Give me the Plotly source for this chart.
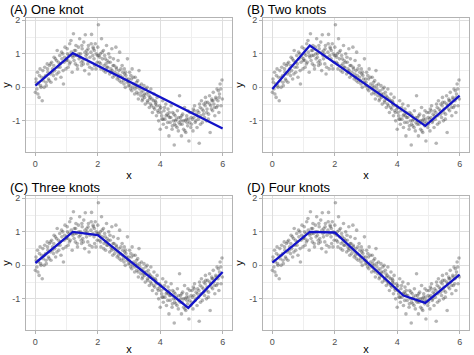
import plotly.graph_objects as go
from plotly.subplots import make_subplots

# ---------------- data ----------------
x_pts = [
    0.00,0.02,0.05,0.07,0.10,0.12,0.15,0.17,0.20,0.22,0.25,0.28,0.30,0.33,0.35,0.38,0.40,0.42,0.45,0.48,
    0.50,0.52,0.55,0.58,0.60,0.62,0.65,0.68,0.70,0.72,0.75,0.78,0.80,0.82,0.85,0.88,0.90,0.92,0.95,0.98,
    1.00,1.02,1.05,1.08,1.10,1.12,1.15,1.18,1.20,1.22,1.25,1.28,1.30,1.32,1.35,1.38,1.40,1.42,1.45,1.48,
    1.50,1.52,1.55,1.58,1.60,1.62,1.65,1.68,1.70,1.72,1.75,1.78,1.80,1.82,1.85,1.88,1.90,1.92,1.95,1.98,
    1.04,1.27,1.47,1.66,1.86,
    2.00,2.02,2.05,2.08,2.10,2.12,2.15,2.18,2.20,2.22,2.25,2.28,2.30,2.32,2.35,2.38,2.40,2.42,2.45,2.48,
    2.50,2.52,2.55,2.58,2.60,2.62,2.65,2.68,2.70,2.72,2.75,2.78,2.80,2.82,2.85,2.88,2.90,2.92,2.95,2.98,
    2.06,2.26,2.46,2.66,2.86,
    3.00,3.02,3.05,3.08,3.10,3.12,3.15,3.18,3.20,3.22,3.25,3.28,3.30,3.32,3.35,3.38,3.40,3.42,3.45,3.48,
    3.50,3.52,3.55,3.58,3.60,3.62,3.65,3.68,3.70,3.72,3.75,3.78,3.80,3.82,3.85,3.88,3.90,3.92,3.95,3.98,
    3.06,3.26,3.46,3.66,3.86,
    4.00,4.02,4.05,4.08,4.10,4.12,4.15,4.18,4.20,4.22,4.25,4.28,4.30,4.32,4.35,4.38,4.40,4.42,4.45,4.48,
    4.50,4.52,4.55,4.58,4.60,4.62,4.65,4.68,4.70,4.72,4.75,4.78,4.80,4.82,4.85,4.88,4.90,4.92,4.95,4.98,
    4.06,4.26,4.46,4.66,4.86,
    5.00,5.02,5.05,5.08,5.10,5.12,5.15,5.18,5.20,5.22,5.25,5.28,5.30,5.32,5.35,5.38,5.40,5.42,5.45,5.48,
    5.50,5.52,5.55,5.58,5.60,5.62,5.65,5.68,5.70,5.72,5.75,5.78,5.80,5.82,5.85,5.88,5.90,5.92,5.95,5.98,
    5.06,5.26,5.46,5.66,5.86,
    0.03,0.08,0.13,0.18,0.24,0.29,0.34,0.39,0.44,0.49,0.54,0.59,0.64,0.69,0.74,0.79,0.84,0.89,0.94,0.99,
    1.03,1.09,1.14,1.19,1.24,1.29,1.34,1.39,1.44,1.49,1.54,1.59,1.64,1.69,1.74,1.79,1.84,1.89,1.94,1.99,
    2.03,2.09,2.14,2.19,2.24,2.29,2.34,2.39,2.44,2.49,2.54,2.59,2.64,2.69,2.74,2.79,2.84,2.89,2.94,2.99,
    3.03,3.09,3.14,3.19,3.24,3.29,3.34,3.39,3.44,3.49,3.54,3.59,3.64,3.69,3.74,3.79,3.84,3.89,3.94,3.99,
    4.03,4.09,4.14,4.19,4.24,4.29,4.34,4.39,4.44,4.49,4.54,4.59,4.64,4.69,4.74,4.79,4.84,4.89,4.94,4.99,
    5.03,5.09,5.14,5.19,5.24,5.29,5.34,5.39,5.44,5.49,5.54,5.59,5.64,5.69,5.74,5.79,5.84,5.89,5.94,5.99,
]
y_pts = [
    -0.15,0.25,-0.05,0.45,0.10,-0.30,0.55,0.05,0.30,-0.40,0.20,0.00,0.60,0.35,0.05,0.70,0.45,0.25,0.65,0.40,
    0.15,0.75,0.55,0.35,0.90,0.50,0.25,0.80,1.10,0.60,0.45,0.95,0.70,0.30,0.85,1.00,0.10,0.75,1.20,0.55,
    0.85,1.15,0.60,0.95,1.30,0.75,1.05,0.45,0.90,1.60,1.10,0.70,1.25,0.95,0.55,1.20,0.85,1.45,1.00,0.65,
    1.15,0.80,1.35,0.50,1.57,0.95,1.10,0.70,1.25,0.40,0.90,1.05,1.58,0.55,1.20,0.85,0.65,1.30,1.00,0.75,
    0.80,0.95,0.75,1.00,1.15,
    1.20,1.87,0.75,1.00,0.55,1.45,0.85,1.10,0.65,0.95,0.45,1.25,0.80,0.60,1.00,0.40,0.75,0.55,1.15,0.30,
    0.85,0.65,0.45,1.20,0.55,0.25,0.80,0.50,1.05,0.35,0.15,0.65,0.45,0.20,0.55,0.00,0.35,0.25,0.85,0.05,
    0.90,0.70,0.50,0.30,0.40,
    0.15,0.45,-0.05,0.25,0.55,0.00,0.10,-0.20,0.30,0.05,-0.15,0.20,-0.35,0.50,-0.05,-0.25,0.10,-0.40,-0.10,0.05,
    -0.30,-0.50,-0.20,0.00,-0.45,-0.15,-0.60,-0.30,-0.05,-0.55,-0.75,-0.40,-0.20,-0.65,-0.50,-0.85,-0.30,-0.70,-1.00,-0.55,
    0.35,0.00,-0.25,-0.35,-0.45,
    -1.25,-0.60,-0.85,-0.40,-1.10,-0.70,-0.95,-0.50,-1.20,-0.80,-0.65,-1.45,-0.90,-1.05,-0.55,-1.25,-0.75,-1.00,-1.72,-0.85,
    -1.15,-0.95,-0.70,-1.30,-1.05,-0.25,-0.90,-1.45,-1.10,-0.80,-1.25,-0.60,-1.00,-1.35,-0.85,-1.15,-0.95,-1.60,-0.75,-1.20,
    -0.95,-0.85,-1.10,-1.00,-1.05,
    -1.10,-0.75,-1.30,-0.90,-0.55,-1.05,-0.80,-1.20,-0.70,-0.95,-1.67,-0.60,-0.85,-0.40,-1.05,-0.70,-0.50,-0.90,-0.30,-1.00,
    -0.65,-0.45,-0.80,-0.25,-1.35,-0.55,-0.35,-0.70,-0.15,-0.50,-0.85,-0.30,-0.60,-0.05,-0.40,-0.75,-0.20,0.10,-0.55,0.22,
    -0.65,-0.50,-0.45,-0.40,-0.10,
    0.15,-0.20,0.35,0.00,0.50,0.30,0.15,0.55,0.20,0.70,0.45,0.65,0.85,0.40,0.75,0.60,1.05,0.50,0.90,0.80,
    1.00,0.70,1.40,0.95,0.80,1.10,0.65,1.00,0.90,1.25,0.70,1.05,0.85,1.15,0.60,1.30,0.95,1.10,0.55,0.95,
    0.95,0.70,1.05,0.50,0.85,0.60,0.75,0.90,0.45,0.65,0.35,0.60,0.40,0.20,0.55,0.30,0.10,0.45,0.15,0.25,
    0.05,-0.10,0.30,-0.05,0.15,-0.20,0.05,-0.15,-0.35,-0.20,-0.05,-0.40,-0.25,-0.50,-0.35,-0.60,-0.40,-0.55,-0.75,-0.65,
    -0.75,-0.95,-0.60,-0.85,-1.05,-0.75,-0.90,-1.15,-0.80,-1.00,-1.20,-0.90,-1.10,-0.85,-1.00,-1.30,-0.95,-0.70,-1.05,-0.90,
    -0.95,-0.70,-1.00,-0.85,-0.75,-1.10,-0.65,-0.80,-0.55,-0.75,-0.95,-0.50,-0.65,-0.40,-0.60,-0.35,-0.55,-0.30,-0.05,-0.35,
]

panel_titles = ["(A) One knot", "(B) Two knots", "(C) Three knots", "(D) Four knots"]

fit_x_A = [0.0, 1.2, 6.0]
fit_y_A = [0.05, 1.02, -1.23]
fit_x_B = [0.0, 1.2, 4.9, 6.0]
fit_y_B = [-0.05, 1.25, -1.15, -0.25]
fit_x_C = [0.0, 1.2, 2.0, 4.9, 6.0]
fit_y_C = [0.07, 1.00, 0.90, -1.27, -0.20]
fit_x_D = [0.0, 1.2, 2.0, 4.2, 4.9, 6.0]
fit_y_D = [0.08, 1.00, 0.98, -0.90, -1.12, -0.28]

fits = [(fit_x_A, fit_y_A), (fit_x_B, fit_y_B), (fit_x_C, fit_y_C), (fit_x_D, fit_y_D)]

x_ticks = [0, 2, 4, 6]
y_ticks = [-1, 0, 1, 2]

# ---------------- figure ----------------
W, H = 474, 355
fig = make_subplots(rows=2, cols=2)

# plot-area pixel boxes (left, right, top, bottom)
boxes = [(26, 232, 18, 152), (263, 469, 18, 152),
         (26, 232, 196, 330), (263, 469, 196, 330)]
title_pos = [(8, 10), (245, 10), (8, 187), (245, 187)]

FONT = "Liberation Sans, Arial"

for i, (fx, fy) in enumerate(fits):
    r, c = i // 2 + 1, i % 2 + 1
    fig.add_trace(go.Scatter(x=x_pts, y=y_pts, mode="markers",
                             marker=dict(size=3.6, color="rgba(60,60,60,0.38)", line=dict(width=0)),
                             showlegend=False, hoverinfo="skip"), row=r, col=c)
    fig.add_trace(go.Scatter(x=fx, y=fy, mode="lines",
                             line=dict(color="#1212c8", width=2.3),
                             showlegend=False), row=r, col=c)

for i in range(4):
    l, rr, t, b = boxes[i]
    xa = "xaxis" if i == 0 else f"xaxis{i+1}"
    ya = "yaxis" if i == 0 else f"yaxis{i+1}"
    fig.layout[xa].update(
        domain=[l / W, rr / W], range=[-0.3, 6.3], automargin=False,
        tickvals=x_ticks, ticktext=[str(v) for v in x_ticks],
        showgrid=True, gridcolor="#DEDEDE", gridwidth=1,
        minor=dict(dtick=1, tick0=0, showgrid=True, gridcolor="#EFEFEF", gridwidth=0.6, ticks=""),
        zeroline=False, showline=True, linecolor="#B3B3B3", linewidth=1, mirror=True,
        ticks="outside", ticklen=3, tickcolor="#B3B3B3",
        tickfont=dict(family=FONT, size=9, color="#4D4D4D"),
        title=dict(text="x", font=dict(family=FONT, size=11, color="#000"), standoff=3),
    )
    fig.layout[ya].update(
        domain=[1 - b / H, 1 - t / H], range=[-1.93, 2.07], automargin=False,
        tickvals=y_ticks, ticktext=[str(v) for v in y_ticks],
        showgrid=True, gridcolor="#DEDEDE", gridwidth=1,
        minor=dict(dtick=0.5, tick0=0.5, showgrid=True, gridcolor="#EFEFEF", gridwidth=0.6, ticks=""),
        zeroline=False, showline=True, linecolor="#B3B3B3", linewidth=1, mirror=True,
        ticks="outside", ticklen=3, tickcolor="#B3B3B3",
        tickfont=dict(family=FONT, size=9, color="#4D4D4D"),
        title=dict(text="y", font=dict(family=FONT, size=11, color="#000"), standoff=3),
    )
    tx, ty = title_pos[i]
    fig.add_annotation(text=panel_titles[i], x=tx / W, y=1 - ty / H, xref="paper", yref="paper",
                       xanchor="left", yanchor="middle", showarrow=False,
                       font=dict(family=FONT, size=13, color="#000"))

fig.update_layout(width=W, height=H, margin=dict(l=0, r=0, t=0, b=0),
                  plot_bgcolor="white", paper_bgcolor="white")

fig.write_html("out.html", config={"displayModeBar": False},
               post_script="document.body.style.margin='0';document.body.style.padding='0';")
